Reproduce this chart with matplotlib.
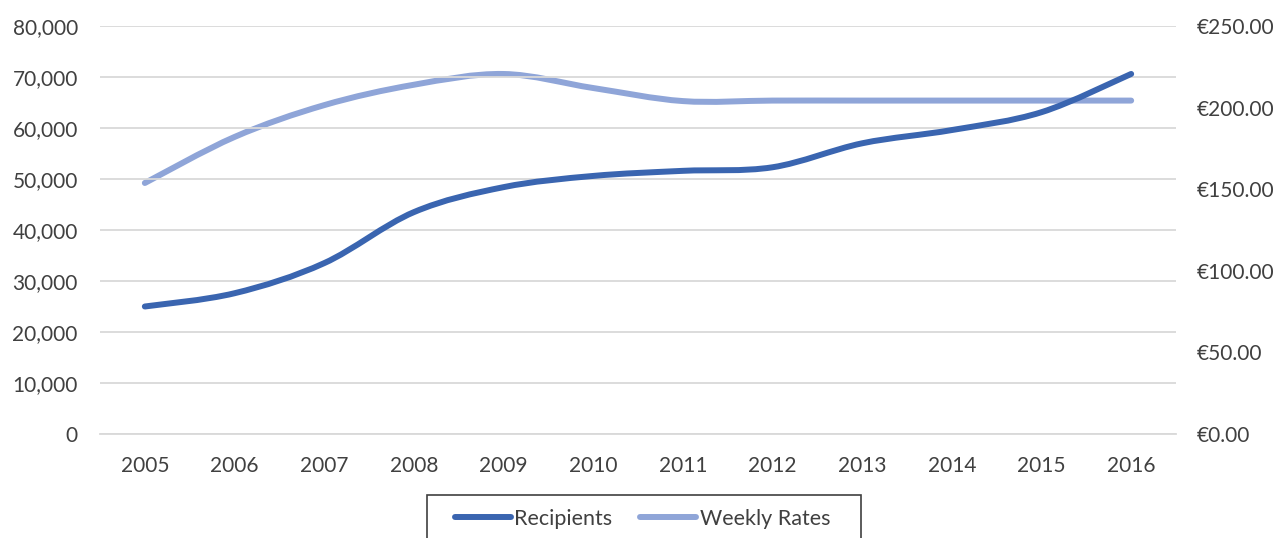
import numpy as np
import matplotlib.pyplot as plt
from matplotlib.path import Path
from matplotlib.patches import PathPatch, Rectangle
from matplotlib.lines import Line2D
from matplotlib.ticker import FuncFormatter

plt.rcParams['font.family'] = ['Lato', 'DejaVu Sans']

years = [2005, 2006, 2007, 2008, 2009, 2010, 2011, 2012, 2013, 2014, 2015, 2016]
recipients = [25000, 27600, 33500, 43500, 48400, 50600, 51600, 52300, 57000, 59600, 63100, 70600]
weekly_rates = [153.8, 182.0, 201.5, 214.0, 220.6, 212.0, 204.0, 204.3, 204.3, 204.3, 204.3, 204.3]

dark_blue = '#3A65B0'
light_blue = '#8FA5D8'
text_col = '#404040'


def smooth_path(x, y):
    # Catmull-Rom style bezier, like a spreadsheet "smoothed line"
    x = np.asarray(x, float)
    y = np.asarray(y, float)
    verts = [(x[0], y[0])]
    codes = [Path.MOVETO]
    n = len(x)
    for i in range(n - 1):
        i0 = max(i - 1, 0)
        i3 = min(i + 2, n - 1)
        c1 = (x[i] + (x[i + 1] - x[i0]) / 6, y[i] + (y[i + 1] - y[i0]) / 6)
        c2 = (x[i + 1] - (x[i3] - x[i]) / 6, y[i + 1] - (y[i3] - y[i]) / 6)
        verts += [c1, c2, (x[i + 1], y[i + 1])]
        codes += [Path.CURVE4] * 3
    return Path(verts, codes)


W, H = 1279, 538
fig = plt.figure(figsize=(W / 100, H / 100), dpi=100)
ax = fig.add_axes([100 / W, 1 - 434 / H, 1076 / W, 408 / H])
ax2 = ax.twinx()

xs = np.arange(len(years))
ax.add_patch(PathPatch(smooth_path(xs, recipients), fill=False, edgecolor=dark_blue,
                       lw=4.3, capstyle='round', zorder=3))
ax2.add_patch(PathPatch(smooth_path(xs, weekly_rates), fill=False, edgecolor=light_blue,
                        lw=4.3, capstyle='round', zorder=2))

ax.set_xlim(-0.5, len(years) - 0.5)
ax.set_ylim(0, 80000)
ax2.set_ylim(0, 250)
ax.set_yticks(np.arange(0, 80001, 10000))
ax2.set_yticks(np.arange(0, 251, 50))
ax.yaxis.set_major_formatter(FuncFormatter(lambda v, p: f'{int(v):,}'))
ax2.yaxis.set_major_formatter(FuncFormatter(lambda v, p: f'€{v:.2f}'))
ax.set_xticks(xs)
ax.set_xticklabels([str(y) for y in years])

ax.grid(axis='y', color='#D9D9D9', lw=1.3)
ax.set_axisbelow(True)
for a in (ax, ax2):
    for s in a.spines.values():
        s.set_visible(False)
    a.tick_params(length=0, labelsize=15, labelcolor=text_col)
ax.tick_params(axis='y', pad=16)
ax.tick_params(axis='x', pad=16)
ax2.tick_params(axis='y', pad=15)
ax.spines['bottom'].set_visible(True)
ax.spines['bottom'].set_color('#D9D9D9')
ax.spines['bottom'].set_linewidth(1.3)
ax2.set_zorder(ax.get_zorder() - 1)
ax.patch.set_visible(False)

# legend box runs off the bottom edge, as in the original
fig.patches.append(Rectangle((427 / W, -0.05), (861 - 427) / W, 0.05 + 1 - 495 / H,
                             transform=fig.transFigure, fill=False,
                             edgecolor='#404040', lw=1.2))
handles = [Line2D([], [], color=dark_blue, lw=4.3, solid_capstyle='round'),
           Line2D([], [], color=light_blue, lw=4.3, solid_capstyle='round')]
fig.legend(handles, ['Recipients', 'Weekly Rates'], loc='center left',
           bbox_to_anchor=(455 / W, 1 - 519 / H), ncol=2, frameon=False,
           fontsize=15.5, handlelength=2.6, handletextpad=0.15, columnspacing=1.3,
           borderpad=0, borderaxespad=0, labelcolor=text_col)

plt.savefig('out.png', dpi=100)
